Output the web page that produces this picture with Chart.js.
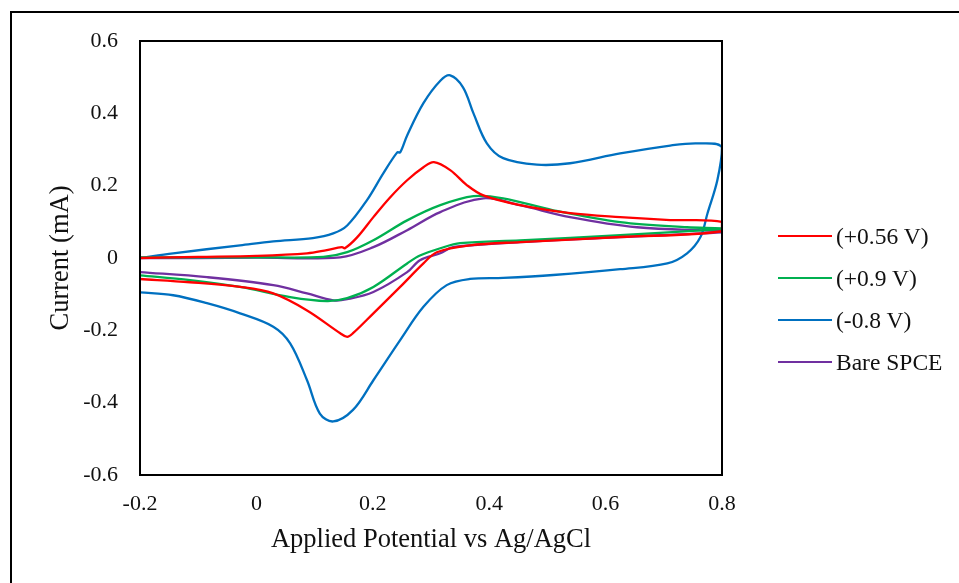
<!DOCTYPE html>
<html><head><meta charset="utf-8">
<script src="https://cdn.jsdelivr.net/npm/chart.js@4"></script>
<style>
html,body{margin:0;padding:0;background:#fff;}
#wrap{position:relative;width:959px;height:583px;overflow:hidden;}
#frame{position:absolute;left:10px;top:11px;width:1000px;height:700px;border:2px solid #000;box-sizing:border-box;}
#c{position:absolute;left:0;top:0;}
#legend{position:absolute;left:778px;top:215px;font-family:"Liberation Serif","Times New Roman",serif;font-size:23.5px;color:#111;}
.li{display:flex;align-items:center;height:42px;}
.sw{width:54px;height:2.3px;margin-right:4px;}
</style></head>
<body><div id="wrap"><div id="frame"></div><canvas id="c" width="959" height="583"></canvas>
<div id="legend"></div></div>
<script>
const seriesNames = ["(+0.56 V)", "(+0.9 V)", "(-0.8 V)", "Bare SPCE"];
const seriesColors = ["#FF0000", "#00B050", "#0070C0", "#7030A0"];
const xTicks = [-0.2, 0, 0.2, 0.4, 0.6, 0.8];
const yTicks = [-0.6, -0.4, -0.2, 0, 0.2, 0.4, 0.6];
const xTickLabels = ["-0.2", "0", "0.2", "0.4", "0.6", "0.8"];
const yTickLabels = ["-0.6", "-0.4", "-0.2", "0", "0.2", "0.4", "0.6"];

// potential (V) and current (mA) along each closed voltammogram
const redX = [-0.2,-0.1,0.0,0.087,0.121,0.147,0.152,0.173,0.201,0.23,0.259,0.287,0.305,0.333,0.362,0.39,0.453,0.539,0.625,0.711,0.8,0.8,0.625,0.453,0.367,0.31,0.287,0.247,0.201,0.166,0.156,0.144,0.087,0.029,-0.028,-0.114,-0.2];
const redY = [0.0,0.003,0.006,0.013,0.022,0.03,0.027,0.057,0.113,0.168,0.215,0.251,0.265,0.243,0.201,0.173,0.146,0.124,0.113,0.105,0.1,0.074,0.058,0.044,0.035,0.016,-0.015,-0.08,-0.153,-0.208,-0.218,-0.208,-0.145,-0.098,-0.08,-0.067,-0.058];

const greenX = [-0.2,-0.1,0.0,0.115,0.156,0.201,0.259,0.316,0.373,0.424,0.51,0.625,0.74,0.8,0.8,0.625,0.453,0.35,0.316,0.281,0.259,0.201,0.156,0.121,0.058,-0.028,-0.114,-0.2];
const greenY = [0.002,0.002,0.002,0.003,0.016,0.049,0.104,0.146,0.171,0.165,0.132,0.099,0.085,0.082,0.08,0.063,0.049,0.041,0.027,0.007,-0.015,-0.08,-0.111,-0.119,-0.108,-0.08,-0.061,-0.048];

const blueX = [-0.2,-0.143,-0.028,0.029,0.097,0.132,0.156,0.19,0.218,0.242,0.247,0.259,0.287,0.316,0.333,0.355,0.373,0.396,0.424,0.482,0.539,0.625,0.711,0.758,0.8,0.792,0.775,0.763,0.74,0.706,0.625,0.51,0.424,0.367,0.327,0.287,0.247,0.201,0.166,0.132,0.109,0.087,0.058,0.029,-0.028,-0.085,-0.143,-0.2];
const blueY = [0.0,0.013,0.035,0.046,0.055,0.068,0.09,0.16,0.234,0.292,0.292,0.339,0.428,0.49,0.505,0.472,0.40,0.317,0.276,0.258,0.262,0.289,0.311,0.317,0.306,0.215,0.123,0.058,0.013,-0.015,-0.031,-0.047,-0.055,-0.058,-0.075,-0.135,-0.227,-0.338,-0.42,-0.452,-0.43,-0.338,-0.236,-0.19,-0.153,-0.125,-0.103,-0.095];

const purpleX = [-0.2,-0.1,0.0,0.144,0.201,0.259,0.316,0.39,0.453,0.539,0.654,0.8,0.8,0.625,0.453,0.338,0.316,0.281,0.259,0.201,0.156,0.132,0.087,0.029,-0.085,-0.2];
const purpleY = [0.0,0.0,0.001,0.002,0.03,0.077,0.127,0.165,0.146,0.113,0.085,0.074,0.071,0.058,0.044,0.03,0.013,-0.006,-0.039,-0.094,-0.114,-0.117,-0.098,-0.075,-0.053,-0.039];

const xs = [redX, greenX, blueX, purpleX];
const ys = [redY, greenY, blueY, purpleY];

const datasets = seriesNames.map((n, i) => ({
  label: n,
  data: xs[i].map((x, j) => ({x: x, y: ys[i][j]})),
  borderColor: seriesColors[i],
  backgroundColor: seriesColors[i],
  borderWidth: 2.3,
  pointRadius: 0,
  showLine: true,
  tension: 0.35,
  fill: false
}));

const leg = document.getElementById('legend');
seriesNames.forEach((n, i) => {
  const d = document.createElement('div'); d.className = 'li';
  d.innerHTML = '<div class="sw" style="background:' + seriesColors[i] + '"></div><span>' + n + '</span>';
  leg.appendChild(d);
});

const frameBox = {
  id: 'frameBox',
  afterDatasetsDraw(chart) {
    const a = chart.chartArea, ctx = chart.ctx;
    ctx.save(); ctx.strokeStyle = '#000'; ctx.lineWidth = 2;
    ctx.strokeRect(a.left, a.top, a.right - a.left, a.bottom - a.top);
    ctx.restore();
  }
};

const serif = "'Liberation Serif','Times New Roman',serif";
new Chart(document.getElementById('c'), {
  type: 'scatter',
  data: { datasets: datasets },
  options: {
    responsive: false, animation: false,
    layout: { padding: { left: 0, top: 41, right: 237, bottom: 0 } },
    plugins: { legend: { display: false }, tooltip: { enabled: false } },
    scales: {
      x: {
        type: 'linear', min: -0.2, max: 0.8,
        afterFit: s => { s.height = 108; },
        afterBuildTicks: s => { s.ticks = xTicks.map(v => ({value: v})); },
        grid: { display: false, drawTicks: false },
        border: { display: false },
        ticks: { padding: 16, color: '#111', font: { family: serif, size: 22 },
          callback: (v) => xTickLabels[xTicks.findIndex(t => Math.abs(t - v) < 1e-9)] },
        title: { display: true, text: 'Applied Potential vs Ag/AgCl', color: '#111',
          font: { family: serif, size: 26.5 }, padding: { top: 0, bottom: 27 } }
      },
      y: {
        type: 'linear', min: -0.6, max: 0.6,
        afterFit: s => { s.width = 140; },
        afterBuildTicks: s => { s.ticks = yTicks.map(v => ({value: v})); },
        grid: { display: false, drawTicks: false },
        border: { display: false },
        ticks: { padding: 22, color: '#111', font: { family: serif, size: 22 },
          callback: (v) => yTickLabels[yTicks.findIndex(t => Math.abs(t - v) < 1e-9)] },
        title: { display: true, text: 'Current (mA)', color: '#111',
          font: { family: serif, size: 26.5 }, padding: { top: 45, bottom: 0 } }
      }
    }
  },
  plugins: [frameBox]
});
</script></body></html>
